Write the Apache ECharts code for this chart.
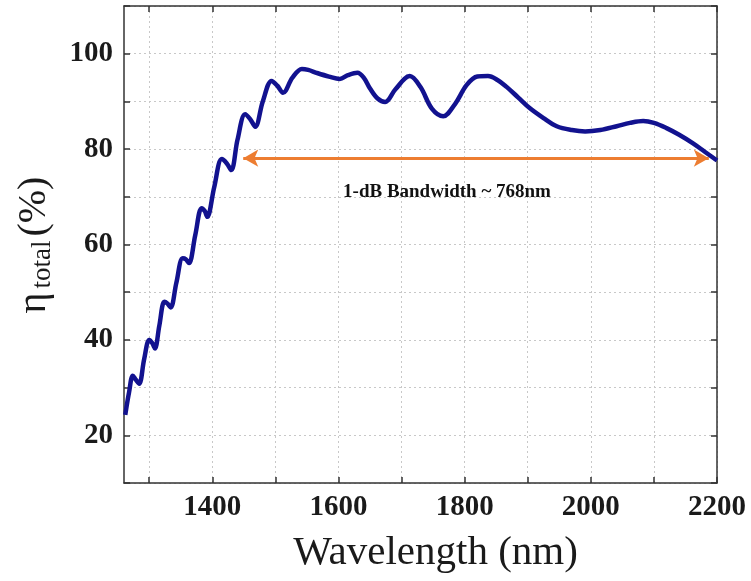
<!DOCTYPE html>
<html><head><meta charset="utf-8">
<script src="https://cdn.jsdelivr.net/npm/echarts@6/dist/echarts.min.js"></script>
<style>html,body{margin:0;padding:0;background:#fff}#c{width:751px;height:581px}</style>
</head><body><div id="c"></div>
<script>
const wavelength = [1262,1268,1274,1279,1284,1292,1300,1305,1309,1316,1324,1329,1334,1343,1353,1358,1363,1373,1383,1388,1392,1403,1415,1423,1430,1440,1452,1460,1468,1480,1494,1503,1512,1527,1542,1552,1565,1585,1602,1615,1630,1640,1650,1662,1674,1690,1713,1730,1748,1766,1785,1803,1820,1837,1852,1866,1885,1903,1925,1946,1970,1991,2015,2041,2062,2083,2100,2120,2140,2162,2180,2200];
const etaTotal = [24.3,29,32.5,31.6,30.8,36,40.0,39.3,38.2,43,48.0,47.6,46.8,52,57.1,56.9,56.1,62,67.6,67.0,65.8,72,77.9,77.0,75.6,82,87.3,86.3,84.7,90,94.3,93.3,91.8,95,96.8,96.6,96.0,95.2,94.7,95.5,96.0,95,92.7,90.6,89.9,92.5,95.3,93,88.5,86.9,89.5,93.4,95.2,95.3,94.5,93.1,90.8,88.6,86.5,84.8,84.0,83.7,84.0,84.8,85.5,85.9,85.5,84.4,83.0,81.2,79.5,77.6];
const xTickValues = [1300,1400,1500,1600,1700,1800,1900,2000,2100,2200];
const xLabelValues = [1400,1600,1800,2000,2200];
const yLabelValues = [20,40,60,80,100];
const bandwidthArrow = {start:1449, end:2187, level:78.1};
const annotationText = '1-dB Bandwidth ~ 768nm';
const annotationPos = [1772, 71.0];

const chart = echarts.init(document.getElementById('c'), null, {renderer:'canvas'});
const serif = '"Liberation Serif","DejaVu Serif",serif';
const axisCol = '#333';
const gridLine = {show:true, lineStyle:{color:'#c8c8c8', type:[2,3], width:1}};
const xBase = {type:'value', min:1260, max:2200, axisLine:{show:true,onZero:false,lineStyle:{color:axisCol,width:1.5}}};
const yBase = {type:'value', min:10, max:110, interval:10, axisLine:{show:true,onZero:false,lineStyle:{color:axisCol,width:1.5}}};
chart.setOption({
  animation:false,
  grid:{left:124,right:34,top:6,bottom:98,containLabel:false},
  xAxis:[
    Object.assign({}, xBase, {position:'bottom',
      axisTick:{show:true,inside:true,length:6,customValues:xTickValues,lineStyle:{color:axisCol,width:1.5}},
      axisLabel:{customValues:xLabelValues,formatter:v=>String(v),fontFamily:serif,fontWeight:'bold',fontSize:29,color:'#1a1a1a',margin:10},
      splitLine:gridLine,
      name:'Wavelength (nm)', nameLocation:'middle', nameGap:50,
      nameTextStyle:{fontFamily:serif,fontSize:41,color:'#1a1a1a',padding:[0,0,0,30]}}),
    Object.assign({}, xBase, {position:'top',
      axisTick:{show:true,inside:true,length:6,customValues:xTickValues,lineStyle:{color:axisCol,width:1.5}},
      axisLabel:{show:false}, splitLine:{show:false}})
  ],
  yAxis:[
    Object.assign({}, yBase, {position:'left',
      axisTick:{show:true,inside:true,length:6,lineStyle:{color:axisCol,width:1.5}},
      axisLabel:{fontFamily:serif,fontWeight:'bold',fontSize:29,color:'#1a1a1a',margin:11,
        formatter:v=>yLabelValues.indexOf(v)>=0?String(v):''},
      splitLine:gridLine}),
    Object.assign({}, yBase, {position:'right',
      axisTick:{show:true,inside:true,length:6,lineStyle:{color:axisCol,width:1.5}},
      axisLabel:{show:false}, splitLine:{show:false}})
  ],
  series:[{
    type:'line', xAxisIndex:0, yAxisIndex:0,
    data: wavelength.map((w,i)=>[w, etaTotal[i]]),
    smooth:0.35, showSymbol:false, symbol:'none',
    lineStyle:{color:'#12128f', width:4.5},
    markLine:{
      silent:true, symbol:['arrow','arrow'], symbolSize:[13,15],
      lineStyle:{color:'#ED7D31', width:3, type:'solid'},
      label:{show:false},
      data:[[{coord:[bandwidthArrow.start,bandwidthArrow.level]},{coord:[bandwidthArrow.end,bandwidthArrow.level]}]]
    }
  },{
    type:'scatter', xAxisIndex:0, yAxisIndex:0, silent:true,
    data:[annotationPos], symbolSize:1, itemStyle:{color:'rgba(0,0,0,0)',opacity:1},
    label:{show:true, position:'inside', formatter:annotationText, fontFamily:serif, fontWeight:'bold', fontSize:19, color:'#111', opacity:1}
  }],
  graphic:[{
    type:'text', x:34, y:245, rotation:Math.PI/2,
    style:{
      text:'{a|η}{b|total}{a|(%)}',
      align:'center', verticalAlign:'middle',
      rich:{
        a:{fontFamily:serif,fontSize:40,fill:'#1a1a1a',lineHeight:44},
        b:{fontFamily:serif,fontSize:27,fill:'#1a1a1a',lineHeight:44,verticalAlign:'bottom',padding:[16,4,0,4]}
      }
    }
  }]
});
</script></body></html>
